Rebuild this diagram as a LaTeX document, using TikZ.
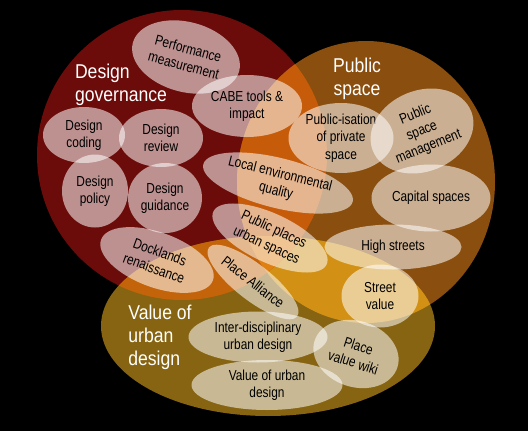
\documentclass[tikz,border=0pt]{standalone}
\usepackage{fontspec}
\setmainfont{Liberation Sans}
\newfontfamily\blobfont{Liberation Sans}[FakeStretch=0.82]
\newfontfamily\headfont{Liberation Sans}[FakeStretch=0.88]
\usetikzlibrary{shapes.geometric}
\definecolor{govred}{RGB}{108,12,10}
\definecolor{pubbrown}{RGB}{138,78,14}
\definecolor{valgold}{RGB}{134,100,18}
\definecolor{redbrown}{RGB}{198,92,10}
\definecolor{redgold}{RGB}{196,100,10}
\definecolor{browngold}{RGB}{210,145,20}
\definecolor{allthree}{RGB}{224,128,16}
\def\govset{(182,155) circle (145)}
\def\pubset{(366,182) ellipse (129 and 141)}
\def\valset{(268,326) ellipse (167 and 90)}
\begin{document}
\begin{tikzpicture}[x=1pt,y=-1pt,
  blob/.style={ellipse,fill=white,fill opacity=0.55,text opacity=1,inner sep=0pt,
    align=center,text=black,font=\blobfont\fontsize{14.5}{17.4}\selectfont},
  head/.style={text=white,font=\headfont\fontsize{20}{23}\selectfont}]
  \fill[black] (0,0) rectangle (528,431);
  \useasboundingbox (0,0) rectangle (528,431);
  % the three sets and their overlaps
  \fill[govred] \govset;
  \fill[pubbrown] \pubset;
  \fill[valgold] \valset;
  \begin{scope}
    \clip \pubset;
    \fill[browngold] \valset;
  \end{scope}
  \begin{scope}
    \clip \govset;
    \fill[redbrown] \pubset;
    \fill[redgold] \valset;
    \clip \pubset;
    \fill[allthree] \valset;
  \end{scope}
  \node[head,align=left] (govhead) at (121,85) {Design\\governance};
  \node[head,align=center] (pubhead) at (357,79) {Public\\space};
  \node[head,align=left] (valhead) at (160,337) {Value of\\urban\\design};
  \node[blob,minimum width=110,minimum height=70,rotate=-15] (perf) at (186,57) {Performance\\measurement};
  \node[blob,minimum width=110,minimum height=62] (cabe) at (247,106) {CABE tools \&\\impact};
  \node[blob,minimum width=82,minimum height=56] (coding) at (84,135) {Design\\coding};
  \node[blob,minimum width=84,minimum height=58] (review) at (161,138) {Design\\review};
  \node[blob,minimum width=66,minimum height=73] (policy) at (95,191) {Design\\policy};
  \node[blob,minimum width=74,minimum height=70] (guidance) at (165,198) {Design\\guidance};
  \node[blob,minimum width=119,minimum height=55,rotate=-20] (docks) at (157,260) {Docklands\\renaissance};
  \node[blob,minimum width=154,minimum height=50,rotate=-14] (localq) at (278,183) {Local environmental\\quality};
  \node[blob,minimum width=125,minimum height=49,rotate=-25] (places) at (270,238) {Public places\\urban spaces};
  \node[blob,minimum width=112,minimum height=36,rotate=-38] (alliance) at (253,282) {Place Alliance};
  \node[blob,minimum width=105,minimum height=70] (publicis) at (341,138) {Public-isation\\of private\\space};
  \node[blob,minimum width=106,minimum height=81,rotate=22] (psm) at (422,131) {Public\\space\\management};
  \node[blob,minimum width=119,minimum height=67] (capital) at (431,198) {Capital spaces};
  \node[blob,minimum width=137,minimum height=45] (highst) at (393,247) {High streets};
  \node[blob,minimum width=77,minimum height=63] (stvalue) at (380,296) {Street\\value};
  \node[blob,minimum width=139,minimum height=51] (interd) at (258,337) {Inter-disciplinary\\urban design};
  \node[blob,minimum width=151,minimum height=50] (vud) at (267,385) {Value of urban\\design};
  \node[blob,minimum width=87,minimum height=66,rotate=-18] (wiki) at (356,354) {Place\\value wiki};
\end{tikzpicture}
\end{document}
